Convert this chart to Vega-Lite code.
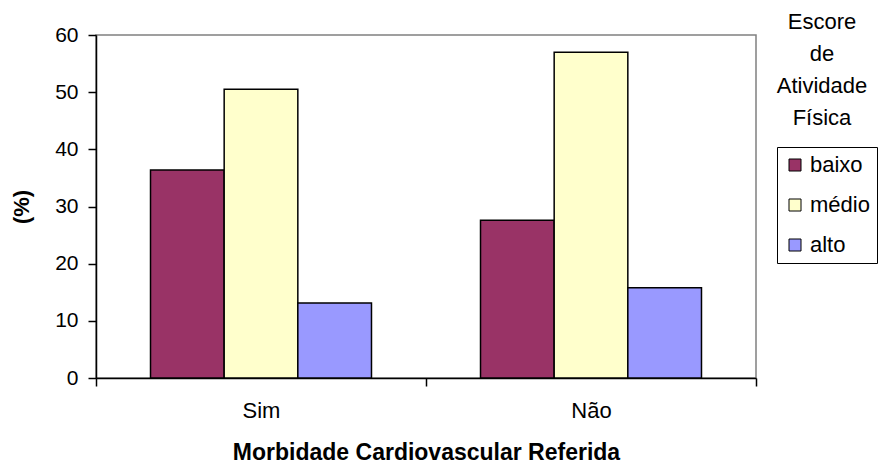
{
  "$schema": "https://vega.github.io/schema/vega-lite/v6.json",
  "width": 660,
  "height": 343,
  "autosize": {"type": "none"},
  "padding": {"left": 96, "top": 35, "right": 122, "bottom": 92},
  "background": "white",
  "title": {
    "text": ["Escore", "de", "Atividade", "Física"],
    "orient": "top",
    "anchor": "end",
    "frame": "group",
    "align": "center",
    "baseline": "top",
    "offset": 0,
    "dx": 66,
    "dy": 106,
    "font": "Liberation Sans",
    "fontSize": 22,
    "fontWeight": "normal",
    "lineHeight": 32,
    "color": "black"
  },
  "data": {
    "values": [
      {"morbidade": "Sim", "escore": "baixo", "pct": 36.4},
      {"morbidade": "Sim", "escore": "médio", "pct": 50.5},
      {"morbidade": "Sim", "escore": "alto", "pct": 13.1},
      {"morbidade": "Não", "escore": "baixo", "pct": 27.6},
      {"morbidade": "Não", "escore": "médio", "pct": 57.0},
      {"morbidade": "Não", "escore": "alto", "pct": 15.8}
    ]
  },
  "mark": {"type": "bar", "stroke": "black", "strokeWidth": 1.5},
  "encoding": {
    "x": {
      "field": "morbidade",
      "type": "nominal",
      "sort": ["Sim", "Não"],
      "scale": {"paddingInner": 0, "paddingOuter": 0},
      "axis": {
        "title": "Morbidade Cardiovascular Referida",
        "labelAngle": 0,
        "tickBand": "extent",
        "tickSize": 8,
        "tickColor": "black",
        "domainColor": "black",
        "labelFont": "Liberation Sans",
        "labelFontSize": 22,
        "labelColor": "black",
        "labelPadding": 14,
        "titleFont": "Liberation Sans",
        "titleFontSize": 23,
        "titleFontWeight": "bold",
        "titleColor": "black",
        "titlePadding": 20
      }
    },
    "xOffset": {
      "field": "escore",
      "type": "nominal",
      "sort": ["baixo", "médio", "alto"],
      "scale": {"paddingInner": 0, "paddingOuter": 0.74}
    },
    "y": {
      "field": "pct",
      "type": "quantitative",
      "scale": {"domain": [0, 60], "nice": false},
      "axis": {
        "title": "(%)",
        "values": [0, 10, 20, 30, 40, 50, 60],
        "grid": false,
        "tickSize": 8,
        "tickColor": "black",
        "domainColor": "black",
        "labelFont": "Liberation Sans",
        "labelFontSize": 21,
        "labelColor": "black",
        "labelPadding": 10,
        "titleFont": "Liberation Sans",
        "titleFontSize": 22,
        "titleFontWeight": "bold",
        "titleColor": "black",
        "titlePadding": 21
      }
    },
    "color": {
      "field": "escore",
      "type": "nominal",
      "scale": {"domain": ["baixo", "médio", "alto"], "range": ["#993366", "#FFFFCC", "#9999FF"]},
      "legend": {
        "title": null,
        "orient": "none",
        "legendX": 681,
        "legendY": 112,
        "strokeColor": "black",
        "padding": 7,
        "symbolType": "square",
        "symbolSize": 144,
        "symbolStrokeColor": "black",
        "symbolStrokeWidth": 1,
        "symbolOpacity": 1,
        "labelFont": "Liberation Sans",
        "labelFontSize": 22,
        "labelColor": "black",
        "labelOffset": 4,
        "rowPadding": 18
      }
    }
  },
  "config": {
    "view": {"stroke": "#808080", "strokeWidth": 1.5},
    "axis": {"domainWidth": 1.5, "tickWidth": 1.5}
  }
}
